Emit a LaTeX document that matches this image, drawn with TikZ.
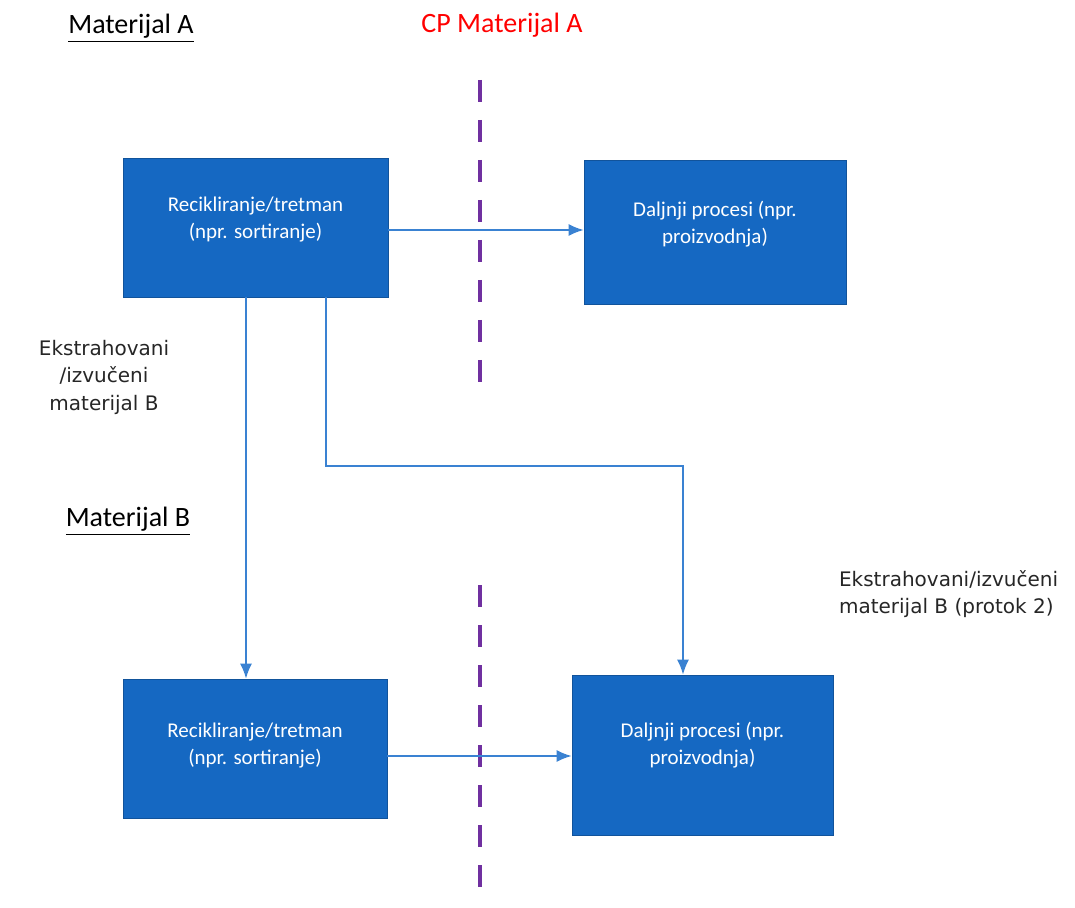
\documentclass[tikz,border=0pt]{standalone}
\usepackage{fontspec}
\setmainfont{Carlito}
\newfontfamily\verdanafont{DejaVu Sans}
\usepackage{tikz}
\usetikzlibrary{arrows.meta}
\definecolor{boxblue}{RGB}{21,104,194}
\definecolor{lineblue}{RGB}{58,130,210}
\definecolor{cppurple}{RGB}{112,48,160}
\tikzstyle{process}=[rectangle,fill=boxblue,draw=boxblue!80!black,line width=0.3pt,text=white,align=center,font=\fontsize{10.5}{13.5}\selectfont]
\tikzstyle{flow}=[-{Latex[length=7.5pt,width=6pt]},draw=lineblue,line width=0.9pt]
\tikzstyle{cpline}=[draw=cppurple,line width=2pt,dash pattern=on 11pt off 9pt]
\tikzstyle{heading}=[font=\fontsize{14}{16}\selectfont]
\tikzstyle{note}=[align=center,font=\verdanafont\fontsize{10}{13.75}\selectfont,text=black!85]

\begin{document}
\begin{tikzpicture}[x=0.5pt,y=-0.5pt]
      \useasboundingbox (0,0) rectangle (1075,908);
      % headings
      \node[heading] (matA) at (131,28) {\underline{Materijal A}};
      \node[heading,text=red] (cpA) at (502,25) {CP Materijal A};
      \node[heading] (matB) at (128,521) {\underline{Materijal B}};
      % cut-off lines
      \draw[cpline] (480,80) -- (480,385);
      \draw[cpline] (480,585) -- (480,905);
      % process boxes
      \node[process,minimum width=132.5pt,minimum height=69.5pt] (rec1) at (255.5,227.5) {Recikliranje/tretman\\(npr. sortiranje)\\[-4pt]};
      \node[process,minimum width=131pt,minimum height=72pt] (dalj1) at (715,232) {Daljnji procesi (npr.\\proizvodnja)\\[-3.5pt]};
      \node[process,minimum width=132pt,minimum height=69.5pt] (rec2) at (255,748.5) {Recikliranje/tretman\\(npr. sortiranje)\\[-9pt]};
      \node[process,minimum width=130.5pt,minimum height=80pt] (dalj2) at (702.5,755) {Daljnji procesi (npr.\\proizvodnja)\\[-1.5pt]};
      % side notes
      \node[note] (ext1) at (104,377) {Ekstrahovani\\/izvučeni\\materijal B};
      \node[note,align=left,anchor=west] (ext2) at (832,594) {Ekstrahovani/izvučeni\\materijal B (protok 2)};
      % flows
      \draw[flow] ([yshift=-1.25pt]rec1.east) -- ([yshift=-1.25pt]rec1.east -| dalj1.west);
      \draw[flow] ([xshift=-4.75pt]rec1.south) -- ([xshift=-4.75pt]rec1.south |- rec2.north);
      \draw[flow] ([xshift=35.25pt]rec1.south) -- ++(0,169) -| ([xshift=-9.75pt]dalj2.north);
      \draw[flow] ([yshift=-3.75pt]rec2.east) -- ([yshift=-3.75pt]rec2.east -| dalj2.west);
    \end{tikzpicture}
\end{document}
